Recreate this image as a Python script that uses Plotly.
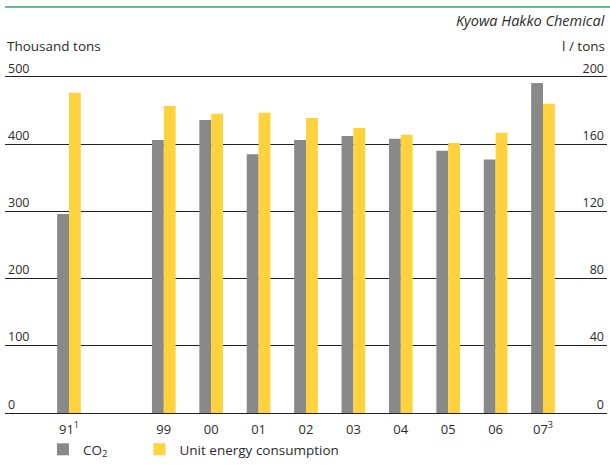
import plotly.graph_objects as go

# Fiscal years (a blank slot separates 1991 from the 1999-2007 run)
years = ["91<sup>1</sup>", " ", "99", "00", "01", "02", "03", "04", "05", "06", "07<sup>3</sup>"]
co2 = [296, None, 406, 436, 385, 406, 412, 408, 390, 377, 491]          # thousand tons
unit_energy = [190.5, None, 182.7, 178.0, 178.6, 175.6, 169.6, 165.5, 160.7, 166.7, 184.0]  # l/tons

left_ticks = [0, 100, 200, 300, 400, 500]
right_ticks = [0, 40, 80, 120, 160, 200]

GRAY = "#898989"
YELLOW = "#FFD23E"
GREEN = "#2BA86A"
TEXT = "#2b2b2b"
FONT = "Open Sans"

fig = go.Figure()
fig.add_trace(go.Bar(x=years, y=co2, name="CO<sub>2</sub>", marker_color=GRAY,
                     marker_line_width=0, offsetgroup="a", yaxis="y", legend="legend"))
fig.add_trace(go.Bar(x=years, y=unit_energy, name="Unit energy consumption", marker_color=YELLOW,
                     marker_line_width=0, offsetgroup="b", yaxis="y2", legend="legend2"))

# legends sit flush with the bottom edge of the page
legend_common = dict(orientation="h", xanchor="left", y=-0.1433, yanchor="bottom",
                     font=dict(size=13.5, color=TEXT), bgcolor="rgba(0,0,0,0)")

fig.update_layout(
    width=610, height=465,
    margin=dict(l=5, r=3, t=50, b=52, autoexpand=False),
    paper_bgcolor="white", plot_bgcolor="white",
    barmode="group", bargap=0.5, bargroupgap=0,
    font=dict(family=FONT, size=13, color=TEXT),
    showlegend=True,
    legend=dict(x=0.063, **legend_common),
    legend2=dict(x=0.2234, **legend_common),
    xaxis=dict(type="category", range=[-1.35, 11.35], showgrid=False, zeroline=False,
               showline=True, linecolor="#222", linewidth=1.3, ticks="", automargin=False,
               tickfont=dict(size=13, color=TEXT), ticklabelstandoff=4, fixedrange=True),
    # headroom above 500 / 200 keeps the top tick labels inside the plotting area
    yaxis=dict(range=[0, 540], tickvals=left_ticks, showgrid=True, gridcolor="#222",
               gridwidth=1.3, zeroline=False, showline=False, ticks="", automargin=False,
               ticklabelposition="inside top", tickfont=dict(size=12.5, color=TEXT)),
    yaxis2=dict(range=[0, 216], tickvals=right_ticks, overlaying="y", side="right",
                showgrid=False, zeroline=False, showline=False, ticks="", automargin=False,
                ticklabelposition="inside top", tickfont=dict(size=12.5, color=TEXT)),
)

# Title band across the top with its green rule
fig.add_annotation(text="<b>Yearly Changes in CO<sub>2</sub> and Unit Energy Consumption</b>",
                   xref="paper", yref="paper", x=0, y=1.1267, xanchor="left", yanchor="bottom",
                   showarrow=False, font=dict(size=16, color=GREEN, family=FONT))
fig.add_shape(type="line", xref="paper", yref="paper", x0=0, x1=1.006, y0=1.1185, y1=1.1185,
              line=dict(color=GREEN, width=1.5))

fig.add_annotation(text="<i>Kyowa Hakko Chemical</i>", xref="paper", yref="paper",
                   x=1.0, y=1.0826, xanchor="right", yanchor="middle", showarrow=False,
                   font=dict(size=14.5, color=TEXT))
fig.add_annotation(text="Thousand tons", xref="paper", yref="paper",
                   x=0.0, y=1.011, xanchor="left", yanchor="middle", showarrow=False,
                   font=dict(size=13.5, color=TEXT))
fig.add_annotation(text="l / tons", xref="paper", yref="paper",
                   x=1.0, y=1.011, xanchor="right", yanchor="middle", showarrow=False,
                   font=dict(size=13.5, color=TEXT))

fig.write_html("out.html")
